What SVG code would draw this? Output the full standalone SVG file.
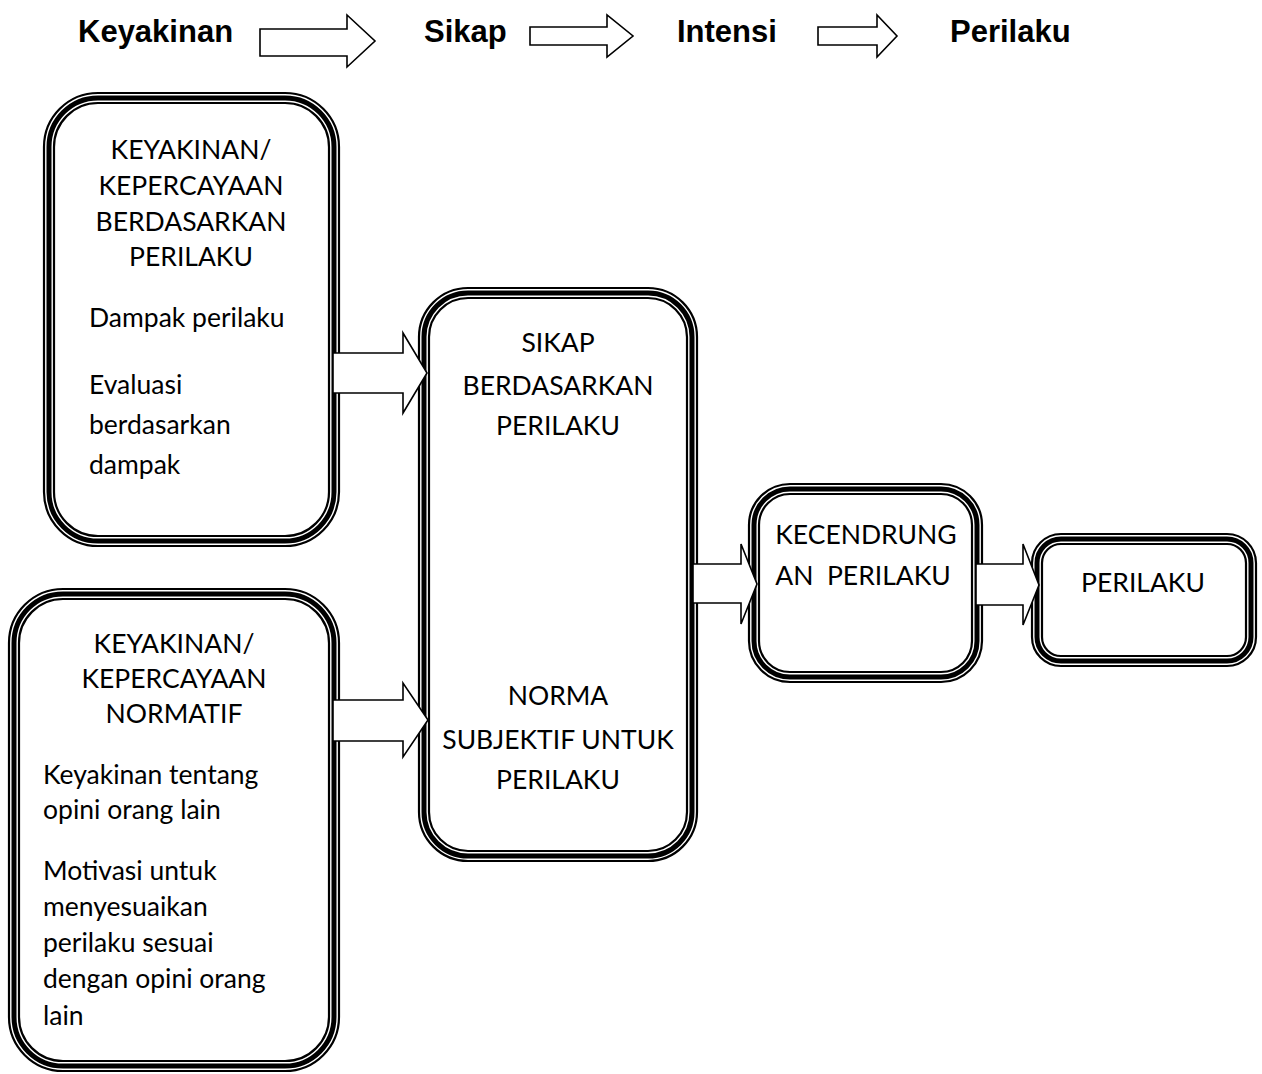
<svg xmlns="http://www.w3.org/2000/svg" width="1262" height="1074" viewBox="0 0 1262 1074">
<style>
.o{fill:#fff;stroke:#000;stroke-width:2.2}
.m{fill:none;stroke:#000;stroke-width:5}
.i{fill:none;stroke:#000;stroke-width:2.2}
.t{font-family:Lato,"Open Sans",sans-serif;font-size:26.5px;fill:#000}
.c{text-anchor:middle}
.h{font-family:"Liberation Sans",Arial,sans-serif;font-size:31px;font-weight:bold;fill:#000}
.a{fill:#fff;stroke:#000;stroke-width:1.6;stroke-linejoin:miter}
</style>
<rect width="1262" height="1074" fill="#fff"/>

<g id="title-keyakinan"><text class="h" x="78" y="42">Keyakinan</text></g>
<g id="title-sikap"><text class="h" x="424" y="42">Sikap</text></g>
<g id="title-intensi"><text class="h" x="677" y="42">Intensi</text></g>
<g id="title-perilaku"><text class="h" x="950" y="42">Perilaku</text></g>

<g id="box-keyakinan-perilaku">
<rect class="o" x="44" y="93" width="295" height="453" rx="54"/>
<rect class="m" x="49" y="98" width="285" height="443" rx="49"/>
<rect class="i" x="54" y="103" width="275" height="433" rx="44"/>
<text class="t c" x="191" y="159">KEYAKINAN/</text>
<text class="t c" x="191" y="195">KEPERCAYAAN</text>
<text class="t c" x="191" y="231">BERDASARKAN</text>
<text class="t c" x="191" y="266">PERILAKU</text>
<text class="t" x="89" y="327">Dampak perilaku</text>
<text class="t" x="89" y="394">Evaluasi</text>
<text class="t" x="89" y="434">berdasarkan</text>
<text class="t" x="89" y="474">dampak</text>
</g>

<g id="box-keyakinan-normatif">
<rect class="o" x="9" y="589" width="330" height="482" rx="54"/>
<rect class="m" x="14" y="594" width="320" height="472" rx="49"/>
<rect class="i" x="19" y="599" width="310" height="462" rx="44"/>
<text class="t c" x="174" y="653">KEYAKINAN/</text>
<text class="t c" x="174" y="688">KEPERCAYAAN</text>
<text class="t c" x="174" y="723">NORMATIF</text>
<text class="t" x="43" y="784">Keyakinan tentang</text>
<text class="t" x="43" y="819">opini orang lain</text>
<text class="t" x="43" y="880">Motivasi untuk</text>
<text class="t" x="43" y="916">menyesuaikan</text>
<text class="t" x="43" y="952">perilaku sesuai</text>
<text class="t" x="43" y="988">dengan opini orang</text>
<text class="t" x="43" y="1025">lain</text>
</g>

<g id="box-sikap-norma">
<rect class="o" x="419" y="288" width="278" height="573" rx="49"/>
<rect class="m" x="424" y="293" width="268" height="563" rx="44"/>
<rect class="i" x="429" y="298" width="258" height="553" rx="39"/>
<text class="t c" x="558" y="352">SIKAP</text>
<text class="t c" x="558" y="395">BERDASARKAN</text>
<text class="t c" x="558" y="435">PERILAKU</text>
<text class="t c" x="558" y="705">NORMA</text>
<text class="t c" x="558" y="749">SUBJEKTIF UNTUK</text>
<text class="t c" x="558" y="789">PERILAKU</text>
</g>

<g id="box-kecendrungan">
<rect class="o" x="749" y="484" width="233" height="198" rx="41"/>
<rect class="m" x="754" y="489" width="223" height="188" rx="36"/>
<rect class="i" x="759" y="494" width="213" height="178" rx="31"/>
<text class="t c" x="866" y="544">KECENDRUNG</text>
<text class="t c" x="863" y="585" xml:space="preserve">AN  PERILAKU</text>
</g>

<g id="box-perilaku">
<rect class="o" x="1032" y="534" width="224" height="132" rx="29"/>
<rect class="m" x="1037" y="539" width="214" height="122" rx="24"/>
<rect class="i" x="1042" y="544" width="204" height="112" rx="19"/>
<text class="t c" x="1143" y="592">PERILAKU</text>
</g>

<g id="connectors">
<polygon class="a" points="260,29 347,29 347,15 375,41 347,67 347,56 260,56"/>
<polygon class="a" points="530,27 607,27 607,15 633,36 607,57 607,45 530,45"/>
<polygon class="a" points="818,27 877,27 877,15 897,36 877,57 877,45 818,45"/>
<polygon class="a" points="333,353 403,353 403,333 427,373 403,413 403,393 333,393"/>
<polygon class="a" points="333,700 403,700 403,683 428,720 403,757 403,741 333,741"/>
<polygon class="a" points="693,564 741,564 741,544 757,584 741,624 741,603 693,603"/>
<polygon class="a" points="976,564 1023,564 1023,544 1039,585 1023,625 1023,605 976,605"/>
</g>
</svg>
